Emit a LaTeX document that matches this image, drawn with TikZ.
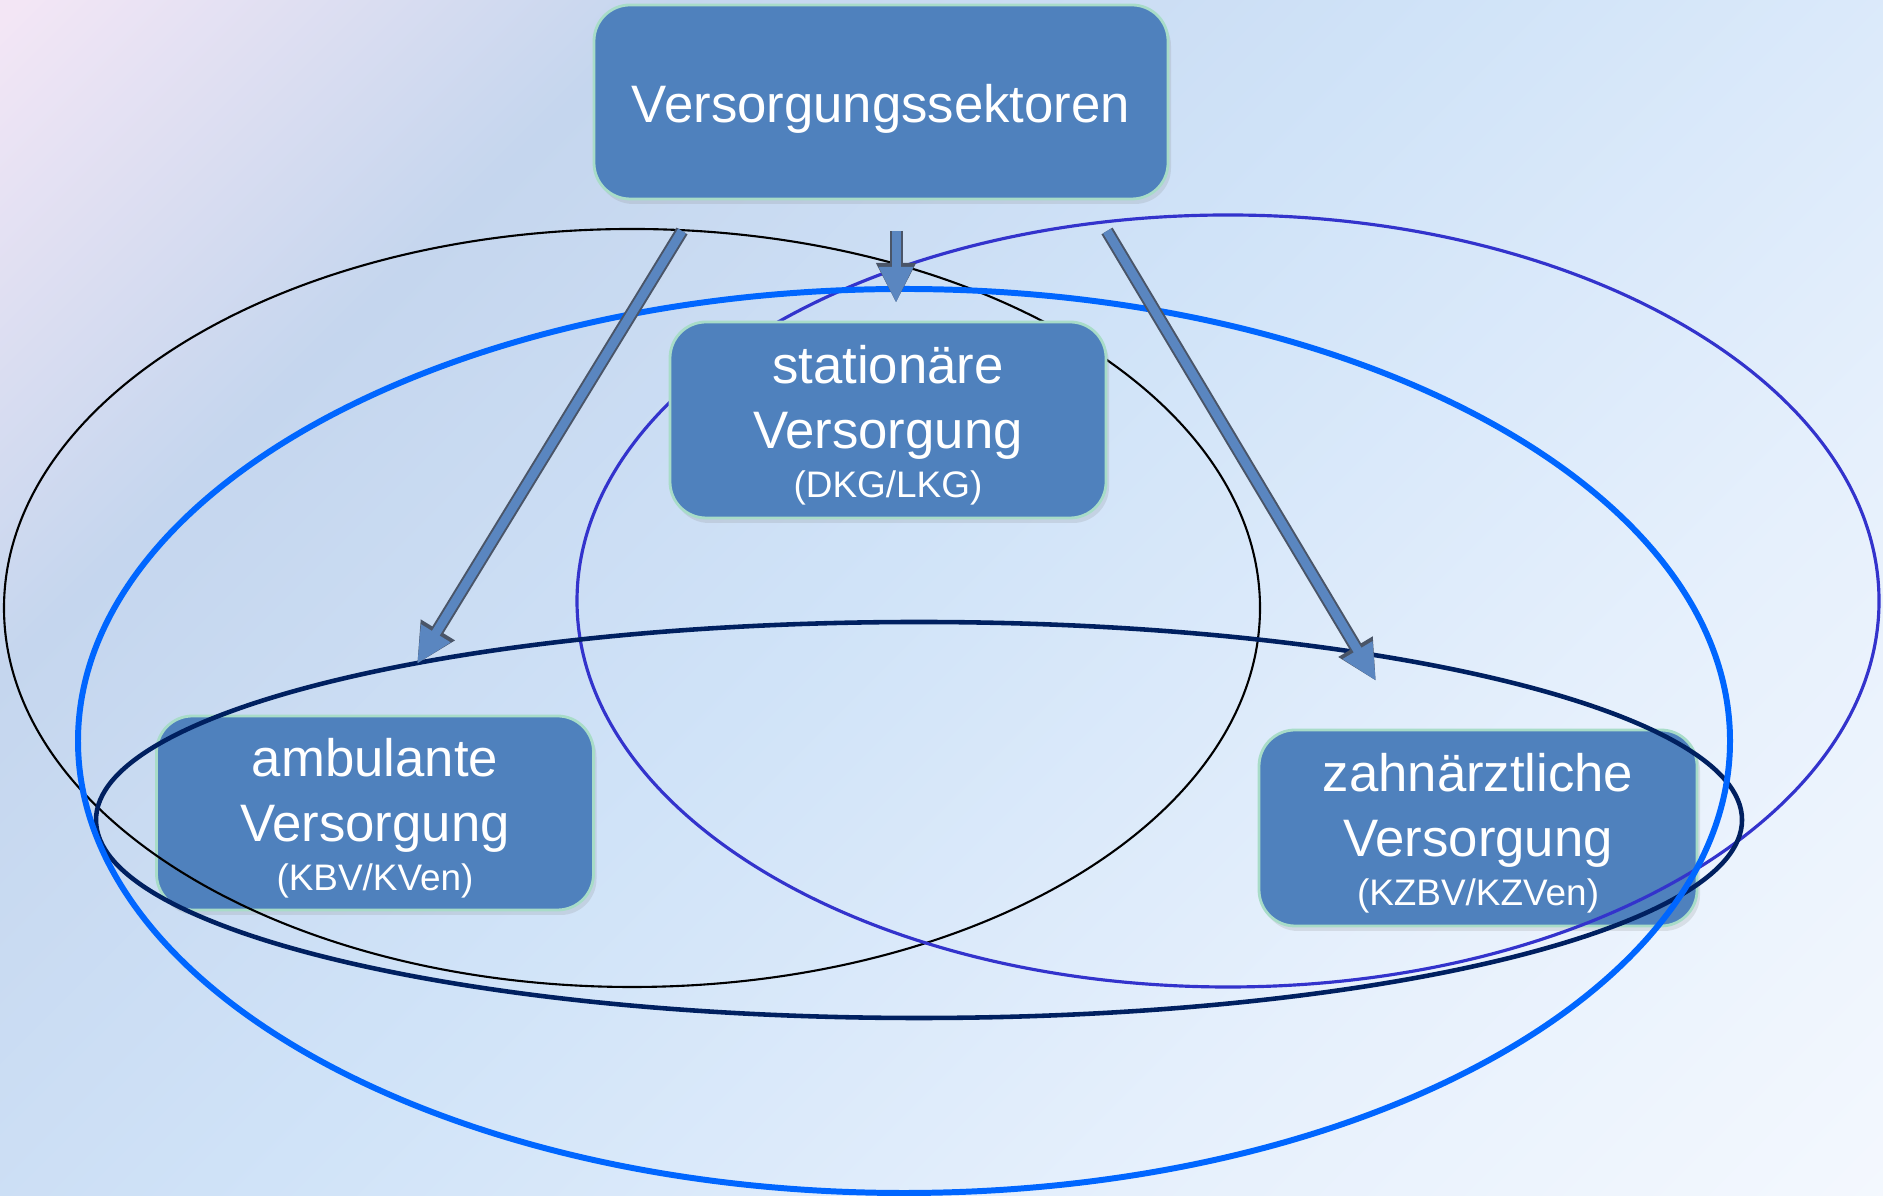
\documentclass[tikz,border=0pt]{standalone}
\usepackage{fontspec}
\setmainfont{Liberation Sans}
\usetikzlibrary{shadows,arrows.meta}

\definecolor{boxblue}{HTML}{4F81BD}
\definecolor{boxedge}{HTML}{A8DCC8}
\definecolor{arrowfill}{HTML}{5A86C0}
\definecolor{arrowedge}{HTML}{4A5568}
\definecolor{ringviolet}{HTML}{3333CC}
\definecolor{ringblue}{HTML}{0066FF}
\definecolor{ringnavy}{HTML}{002060}
\definecolor{bgA}{HTML}{F3E6F5}
\definecolor{bgB}{HTML}{C5D6EE}
\definecolor{bgC}{HTML}{D0E3F8}
\definecolor{bgD}{HTML}{E6F0FC}
\definecolor{bgE}{HTML}{F4F8FE}

\pgfdeclarehorizontalshading{bgshade}{100bp}{color(0bp)=(bgA); color(15bp)=(bgA); color(30bp)=(bgB); color(48bp)=(bgC); color(68bp)=(bgD); color(86bp)=(bgE); color(100bp)=(bgE)}

\newcommand{\sectorfont}{\fontsize{15}{18.5}\selectfont}
\newcommand{\orgfont}{\fontsize{10.5}{14}\selectfont}
\newcommand{\topstrut}{\rule{0pt}{13.8pt}}

\tikzset{
  sector/.style={rectangle, rounded corners=0.36cm, fill=boxblue, draw=boxedge,
    line width=0.8pt, text=white, align=center, inner sep=0pt, font=\sectorfont,
    drop shadow={shadow xshift=0.03cm, shadow yshift=-0.05cm, opacity=0.18}},
  flow/.style={draw=arrowfill, line width=0.09cm,
    -{Triangle[width=0.32cm,length=0.36cm]},
    preaction={draw=arrowedge, line width=0.13cm, -{Triangle[width=0.37cm,length=0.40cm]}}}
}

\begin{document}
\begin{tikzpicture}
  \useasboundingbox (0,0) rectangle (18.83,11.96);
  \shade[shading=bgshade, shading angle=-45] (0,0) rectangle (18.83,11.96);

  % lower sectors sit under the rings
  \node[sector, minimum width=4.37cm, minimum height=1.94cm] (amb) at (3.75,3.83)
    {\topstrut ambulante\\Versorgung\\[-4.5pt]\orgfont (KBV/KVen)};
  \node[sector, minimum width=4.38cm, minimum height=1.96cm] (zahn) at (14.78,3.68)
    {\topstrut zahnärztliche\\Versorgung\\[-4.5pt]\orgfont (KZBV/KZVen)};

  % rings
  \draw[black, line width=0.6pt] (6.32,5.88) ellipse (6.28 and 3.79);
  \draw[ringviolet, line width=0.9pt] (12.28,5.95) ellipse (6.51 and 3.86);
  \draw[ringnavy, line width=1.3pt] (9.19,3.76) ellipse (8.23 and 1.98);
  \draw[ringblue, line width=1.7pt] (9.04,4.55) ellipse (8.26 and 4.52);

  \node[sector, minimum width=4.36cm, minimum height=1.96cm] (stat) at (8.88,7.76)
    {\topstrut stationäre\\Versorgung\\[-4.5pt]\orgfont (DKG/LKG)};
  \node[sector, minimum width=5.74cm, minimum height=1.94cm, text height=0.51cm] (top) at (8.81,10.94)
    {Versorgungssektoren};

  % arrows
  \coordinate (l0) at (6.82,9.65);
  \coordinate (l1) at (4.17,5.32);
  \coordinate (m0) at (8.96,9.65);
  \coordinate (m1) at (8.96,8.93);
  \coordinate (r0) at (11.07,9.65);
  \coordinate (r1) at (13.76,5.15);
  \draw[flow] (l0) -- (l1);
  \draw[flow] (m0) -- (m1);
  \draw[flow] (r0) -- (r1);
\end{tikzpicture}
\end{document}
